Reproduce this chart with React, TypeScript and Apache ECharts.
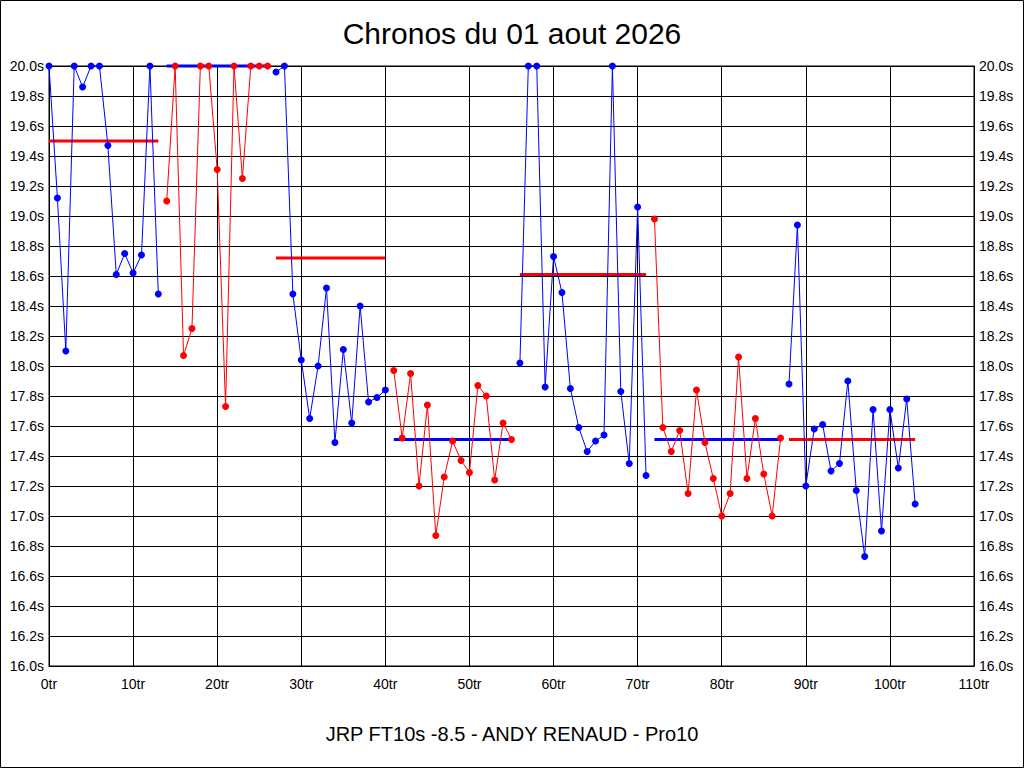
import React, { useEffect, useRef } from "react";
import * as echarts from "echarts";

const TITLE = "Chronos du 01 aout 2026";
const FOOTER = "JRP FT10s -8.5 - ANDY RENAUD - Pro10";

const xTicks = [0, 10, 20, 30, 40, 50, 60, 70, 80, 90, 100, 110];

const segStarts = [0, 14, 27, 41, 56, 72, 88];
const seg1 = [20.0, 19.12, 18.1, 20.0, 19.86, 20.0, 20.0, 19.47, 18.61, 18.75, 18.62, 18.74, 20.0, 18.48];
const seg2 = [19.1, 20.0, 18.07, 18.25, 20.0, 20.0, 19.31, 17.73, 20.0, 19.25, 20.0, 20.0, 20.0];
const seg3 = [19.96, 20.0, 18.48, 18.04, 17.65, 18.0, 18.52, 17.49, 18.11, 17.62, 18.4, 17.76, 17.79, 17.84];
const seg4 = [17.97, 17.52, 17.95, 17.2, 17.74, 16.87, 17.26, 17.5, 17.37, 17.29, 17.87, 17.8, 17.24, 17.62, 17.51];
const seg5 = [18.02, 20.0, 20.0, 17.86, 18.73, 18.49, 17.85, 17.59, 17.43, 17.5, 17.54, 20.0, 17.83, 17.35, 19.06, 17.27];
const seg6 = [18.98, 17.59, 17.43, 17.57, 17.15, 17.84, 17.49, 17.25, 17.0, 17.15, 18.06, 17.25, 17.65, 17.28, 17.0, 17.52];
const seg7 = [17.88, 18.94, 17.2, 17.58, 17.61, 17.3, 17.35, 17.9, 17.17, 16.73, 17.71, 16.9, 17.71, 17.32, 17.78, 17.08];
const segAverages = [19.5, 20.0, 18.72, 17.51, 18.61, 17.51, 17.51];

const segments = [seg1, seg2, seg3, seg4, seg5, seg6, seg7];
const BLUE = "#0000ff";
const RED = "#ff0000";
const FONT = "'Liberation Sans', Arial, sans-serif";

export default function App() {
  const ref = useRef<HTMLDivElement>(null);
  useEffect(() => {
    document.body.style.margin = "0";
    if (!ref.current) return;
    const chart = echarts.init(ref.current, null, { renderer: "svg" });

    const avgSeries: any[] = [];
    const dataSeries: any[] = [];
    segments.forEach((seg, k) => {
      const start = segStarts[k];
      const pts = seg.map((v, i) => [start + i, v]);
      const color = k % 2 === 0 ? BLUE : RED;
      const avgColor = k % 2 === 0 ? RED : BLUE;
      avgSeries.push({
        type: "line",
        yAxisIndex: 0,
        data: [
          [start, segAverages[k]],
          [start + seg.length - 1, segAverages[k]],
        ],
        symbol: "none",
        lineStyle: { color: avgColor, width: 3 },
        clip: false,
        silent: true,
        z: 2,
      });
      dataSeries.push({
        type: "line",
        yAxisIndex: 0,
        data: pts,
        symbol: "circle",
        symbolSize: 7,
        itemStyle: { color },
        lineStyle: { color, width: 1 },
        clip: false,
        z: 3,
      });
    });

    const yAxisCommon = {
      type: "value",
      min: 16,
      max: 20,
      interval: 0.2,
      axisTick: { show: false },
      axisLine: { show: true, lineStyle: { color: "#000", width: 1 } },
      axisLabel: {
        color: "#000",
        fontSize: 14,
        fontFamily: FONT,
        margin: 5,
        formatter: (v: number) => v.toFixed(1) + "s",
      },
    };

    chart.setOption({
      animation: false,
      backgroundColor: "#fff",
      grid: {
        left: 49,
        right: 50,
        top: 66,
        bottom: 102,
        show: true,
        borderColor: "#000",
        borderWidth: 1,
        containLabel: false,
        outerBoundsMode: "none",
      },
      xAxis: {
        type: "value",
        min: xTicks[0],
        max: xTicks[xTicks.length - 1],
        interval: 10,
        axisTick: { show: false },
        axisLine: { show: true, lineStyle: { color: "#000", width: 1 } },
        splitLine: { show: true, lineStyle: { color: "#000", width: 1 } },
        axisLabel: {
          color: "#000",
          fontSize: 14,
          fontFamily: FONT,
          margin: 11,
          formatter: (v: number) => v + "tr",
        },
      },
      yAxis: [
        {
          ...yAxisCommon,
          position: "left",
          splitLine: { show: true, lineStyle: { color: "#000", width: 1 } },
        },
        {
          ...yAxisCommon,
          position: "right",
          splitLine: { show: false },
        },
      ],
      graphic: [
        {
          type: "rect",
          shape: { x: 0.5, y: 0.5, width: 1023, height: 767 },
          style: { fill: "none", stroke: "#000", lineWidth: 1 },
          silent: true,
        },
        {
          type: "text",
          x: 512,
          y: 33,
          style: {
            text: TITLE,
            fill: "#000",
            fontSize: 30,
            fontFamily: FONT,
            textAlign: "center",
            textVerticalAlign: "middle",
          },
        },
        {
          type: "text",
          x: 512,
          y: 734,
          style: {
            text: FOOTER,
            fill: "#000",
            fontSize: 20,
            fontFamily: FONT,
            textAlign: "center",
            textVerticalAlign: "middle",
          },
        },
      ],
      series: [...avgSeries, ...dataSeries],
    });
    return () => chart.dispose();
  }, []);
  return <div ref={ref} style={{ width: 1024, height: 768 }} />;
}
